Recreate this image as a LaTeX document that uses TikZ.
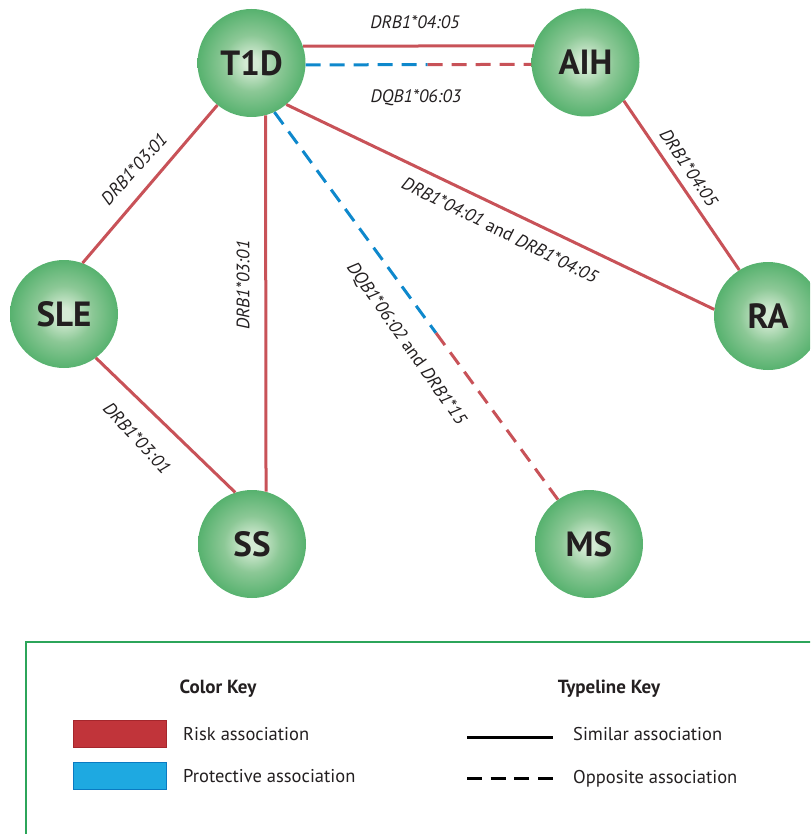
\documentclass[tikz,border=0pt]{standalone}
\usepackage{fontspec}
\setmainfont{PT Sans}
\usetikzlibrary{calc}

\definecolor{riskred}{RGB}{200,82,88}
\definecolor{protblue}{RGB}{14,136,204}
\definecolor{keygreen}{RGB}{44,165,90}
\definecolor{riskfill}{RGB}{193,52,58}
\definecolor{riskdark}{RGB}{165,38,44}
\definecolor{protfill}{RGB}{30,169,225}
\definecolor{protdark}{RGB}{10,122,194}
\definecolor{inkgray}{RGB}{35,31,32}
\definecolor{ballin}{RGB}{212,235,212}
\definecolor{ballmid}{RGB}{140,200,150}
\definecolor{ballmid2}{RGB}{78,174,104}
\definecolor{ballout}{RGB}{44,160,82}
\definecolor{ballrim}{RGB}{34,148,72}

% soft green sphere used for every disease node
\pgfdeclareradialshading{ballshade}{\pgfpoint{0bp}{0bp}}{%
  color(0bp)=(ballin); color(3bp)=(ballin); color(13bp)=(ballmid);
  color(27bp)=(ballmid2); color(41bp)=(ballout); color(50bp)=(ballrim)}

\begin{document}
\begin{tikzpicture}[x=1pt,y=-1pt,
  disease/.style={circle, minimum size=108pt, inner sep=0pt, shading=ballshade,
    font=\fontsize{35}{40}\selectfont\bfseries, text=inkgray},
  risk/.style={draw=riskred, line width=3pt},
  prot/.style={draw=protblue, line width=3pt},
  opp/.style={dash pattern=on 15pt off 9pt},
  allele/.style={font=\fontsize{18}{21}\selectfont\itshape, text=inkgray, inner sep=0pt},
  keytext/.style={font=\fontsize{18.5}{22}\selectfont, text=inkgray, anchor=west, inner sep=0pt},
  keyhead/.style={font=\fontsize{19}{22}\selectfont\bfseries, text=inkgray, inner sep=0pt},
  swatch/.style={line width=1.5pt, minimum width=93pt, minimum height=27pt, inner sep=0pt},
]
\clip (0,0) rectangle (810,834);

% disease nodes
\node[disease] (T1D) at (251.5,63) {T1D};
\node[disease] (AIH) at (585.5,62.5) {AIH};
\node[disease] (SLE) at (64,314) {SLE};
\node[disease] (RA)  at (768,316) {RA};
\node[disease] (SS)  at (252,544) {SS};
\node[disease] (MS)  at (589,544) {MS};

% associations
\draw[risk] (T1D.18) -- (AIH.162);
\coordinate (tamid) at ($(T1D.-2)!0.54!(AIH.182)$);
\draw[prot,opp] (T1D.-2) -- (tamid);
\draw[risk,opp] (tamid) -- (AIH.182);

\draw[risk] (T1D.231) -- (SLE.70);
\draw[risk] (T1D.-75) -- (SS.75);
\draw[risk] (T1D.310) -- (RA.173);

\coordinate (tmmid) at ($(T1D.295)!0.57!(MS.125)$);
\draw[prot,opp] (T1D.295) -- (tmmid);
\draw[risk,opp] (tmmid) -- (MS.125);

\draw[risk] (AIH.-45) -- (RA.122);
\draw[risk] (SLE.-54) -- (SS.108);

% allele labels
\node[allele] (l1) at (415,22) {DRB1*04:05};
\node[allele] (l2) at (416,98) {DQB1*06:03};
\node[allele, rotate=48] (l3) at (134,169) {DRB1*03:01};
\node[allele, rotate=90] (l4) at (243,285) {DRB1*03:01};
\node[allele, rotate=-26.5] (l5) at (500,230) {DRB1*04:01 {\upshape and} DRB1*04:05};
\node[allele, rotate=-55] (l6) at (406,344) {DQB1*06:02 {\upshape and} DRB1*15};
\node[allele, rotate=-56] (l7) at (689,168) {DRB1*04:05};
\node[allele, rotate=-47] (l8) at (137,438) {DRB1*03:01};

% key
\draw[keygreen, line width=2.5pt] (26,642) rectangle (860,900);
\node[keyhead] (ck) at (218,689) {Color Key};
\node[keyhead] (tk) at (609,689) {Typeline Key};

\node[swatch, draw=riskdark, fill=riskfill] (rk) at (120,734) {};
\node[swatch, draw=protdark, fill=protfill] (pk) at (120,776) {};
\node[keytext] (rt) at (183,734) {Risk association};
\node[keytext] (pt) at (183,776) {Protective association};

\coordinate (s1) at (467,737);
\coordinate (s2) at (553,737);
\coordinate (d1) at (467,778);
\coordinate (d2) at (553,778);
\draw[line width=3pt] (s1) -- (s2);
\draw[line width=3pt, dash pattern=on 15pt off 8.7pt] (d1) -- (d2);
\node[keytext] (st) at (573,734) {Similar association};
\node[keytext] (ot) at (573,779) {Opposite association};
\end{tikzpicture}
\end{document}
